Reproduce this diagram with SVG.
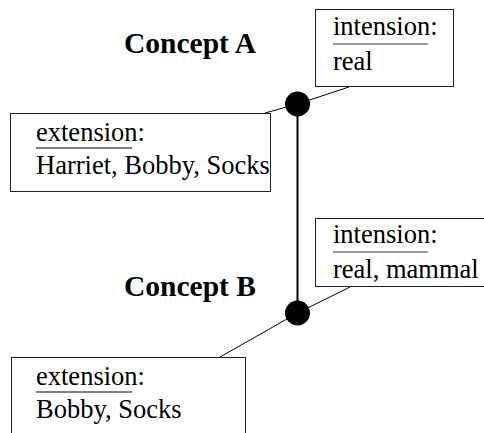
<svg xmlns="http://www.w3.org/2000/svg" width="484" height="433" viewBox="0 0 484 433">
  <style>
    .box { fill: #fff; stroke: #222; stroke-width: 1; }
    .txt { font-family: "Liberation Serif", "Times New Roman", serif; font-size: 26.5px; fill: #000; }
    .title { font-family: "Liberation Serif", "Times New Roman", serif; font-size: 29.5px; font-weight: bold; fill: #000; }
    .rule-ext { stroke: #000; stroke-width: 1.2; }
    .rule-int { stroke: #777; stroke-width: 1.4; }
    .link { stroke: #000; stroke-width: 1; fill: none; }
    .edge { stroke: #000; stroke-width: 2; fill: none; }
    .dot { fill: #000; }
  </style>
  <rect width="484" height="433" fill="#fff"/>

  <!-- connectors -->
  <g id="connectors">
    <line class="edge" x1="297.5" y1="104" x2="297.5" y2="313"/>
    <line class="link" x1="265" y1="113" x2="297.5" y2="104"/>
    <line class="link" x1="297.5" y1="104" x2="349" y2="87"/>
    <line class="link" x1="220" y1="357" x2="297.5" y2="313"/>
    <line class="link" x1="297.5" y1="313" x2="350" y2="287"/>
  </g>

  <!-- concept A -->
  <g id="conceptA">
    <text class="title" x="124" y="53">Concept A</text>
    <circle class="dot" cx="297.5" cy="104" r="12.5"/>
  </g>
  <g id="intensionA">
    <rect class="box" x="315.5" y="9.5" width="138" height="77"/>
    <text class="txt" x="333" y="35">intension:</text>
    <line class="rule-int" x1="333" y1="44" x2="428" y2="44"/>
    <text class="txt" x="333" y="70">real</text>
  </g>
  <g id="extensionA">
    <rect class="box" x="10.5" y="113.5" width="260" height="78"/>
    <text class="txt" x="36" y="140.5">extension:</text>
    <line class="rule-ext" x1="36" y1="148" x2="132" y2="148"/>
    <text class="txt" x="36" y="174">Harriet, Bobby, Socks</text>
  </g>

  <!-- concept B -->
  <g id="conceptB">
    <text class="title" x="124" y="296">Concept B</text>
    <circle class="dot" cx="297.5" cy="313" r="12.5"/>
  </g>
  <g id="intensionB">
    <rect class="box" x="315.5" y="218.5" width="180" height="68"/>
    <text class="txt" x="333" y="243">intension:</text>
    <line class="rule-int" x1="333" y1="252" x2="428" y2="252"/>
    <text class="txt" x="333" y="278">real, mammal</text>
  </g>
  <g id="extensionB">
    <rect class="box" x="11.5" y="357.5" width="234" height="90"/>
    <text class="txt" x="36" y="384.5">extension:</text>
    <line class="rule-ext" x1="36" y1="392" x2="132" y2="392"/>
    <text class="txt" x="36" y="418">Bobby, Socks</text>
  </g>
</svg>
